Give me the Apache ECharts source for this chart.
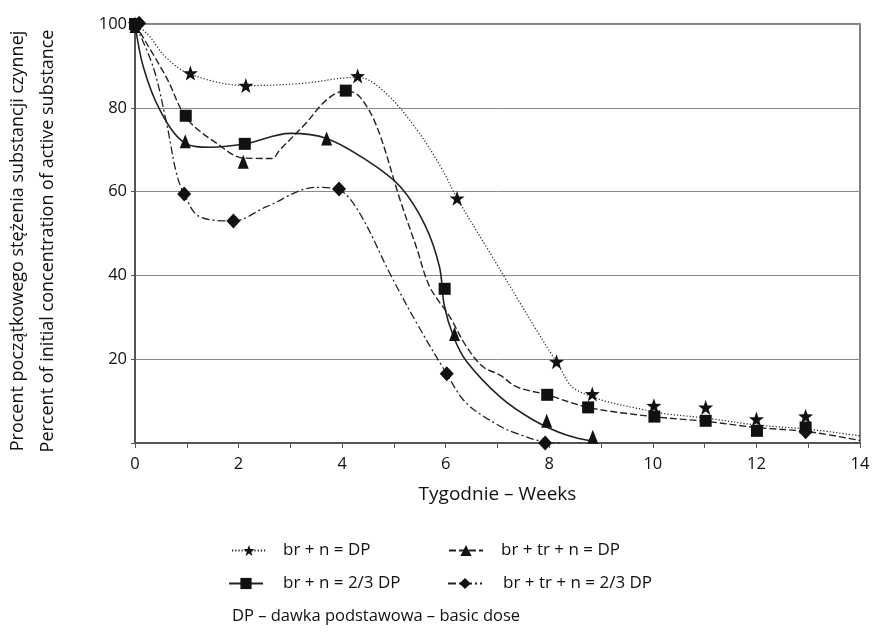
<!DOCTYPE html>
<html>
<head>
<meta charset="utf-8">
<script src="https://cdn.jsdelivr.net/npm/echarts@6/dist/echarts.min.js"></script>
<style>
html, body { margin: 0; padding: 0; background: #fff; }
#chart { width: 877px; height: 632px; }
</style>
</head>
<body>
<div id="chart"></div>
<script>
const names = ["br + n = DP", "br + tr + n = DP", "br + n = 2/3 DP", "br + tr + n = 2/3 DP"];
const yTicks = [0, 20, 40, 60, 80, 100];

// curves as drawn (smoothed by the chart)
const curveStarDotted = [[0,100],[0.25,97.5],[0.6,92],[1.07,88],[2.14,85.3],[3.2,85.8],[4.3,87.3],[4.8,84],[5.4,75.5],[5.9,66],[6.22,58.4],[6.8,46.5],[7.75,27],[8.14,19.4],[8.53,12.6],[10,7.5],[11,6],[12,4.3],[13,3.3],[14,1.7]];
const curveDashed = [[0,100],[0.6,87.4],[1.0,77.5],[1.58,71.5],[2.1,68],[2.64,67.9],[2.8,70],[3.3,76.3],[3.7,81.9],[4.07,84.1],[4.34,82.6],[4.67,75.5],[5.12,58],[5.44,46.5],[5.69,37.3],[6.08,30.1],[6.4,23],[6.72,18.2],[7.05,16.2],[7.37,13.4],[7.96,11.5],[8.75,8.5],[10,6.3],[11,5.2],[12,3.7],[13,2.7],[14,0.6]];
const curveSolid = [[0,100],[0.16,89.8],[0.48,79.5],[0.95,71.7],[1.45,70.6],[2.12,71.4],[3,73.9],[3.7,72.7],[4.47,67.5],[5.12,61.2],[5.6,52],[5.88,42],[5.97,33],[6.15,25.4],[6.4,19.5],[7.05,11],[7.69,5.5],[8.33,1.9],[8.85,0.4]];
const curveDashDot = [[0,100],[0.35,89.8],[0.61,76.3],[0.8,64.4],[0.95,59.4],[1.25,54],[1.9,53],[2.54,56.4],[3.5,61],[3.94,60.4],[4.34,54.8],[4.92,40.5],[5.44,28.6],[6.02,16.5],[6.4,9.5],[7.05,4],[7.37,2.3],[7.92,0.2],[8.2,0]];

// measured points (markers)
const stars = [[0,100],[1.07,88.3],[2.14,85.3],[4.3,87.6],[6.22,58.4],[8.14,19.4],[8.83,11.7],[10.02,8.9],[11.02,8.5],[12,5.7],[12.95,6.4]];
const squares = [[0,100],[0.98,78.1],[2.12,71.4],[4.07,84.1],[5.98,36.8],[7.96,11.5],[8.75,8.5],[10.03,6.3],[11.02,5.3],[12.01,2.9],[12.95,3.7]];
const triangles = [[0,99.5],[0.97,72],[2.09,67.1],[3.7,72.7],[6.17,26],[7.95,5.3],[8.84,1.5]];
const diamonds = [[0.08,100.2],[0.95,59.4],[1.9,53],[3.94,60.6],[6.02,16.5],[7.92,0],[12.95,2.7]];

const FONT = "'Open Sans', 'Noto Sans', sans-serif";
const INK = '#111';
const STAR = 'path://M50 0L61.8 33.8L97.6 34.5L69 56.2L79.4 90.5L50 70L20.6 90.5L31 56.2L2.4 34.5L38.2 33.8Z';

const chart = echarts.init(document.getElementById('chart'));

function curve(name, data, symbol, type, width) {
    return {
        name: name,
        type: 'line',
        data: data,
        smooth: 0.35,
        symbol: symbol,
        showSymbol: false,
        itemStyle: { color: INK },
        lineStyle: { color: '#222', width: width, type: type },
        emphasis: { disabled: true },
        z: 2
    };
}
function marks(data, symbol, size) {
    return {
        type: 'scatter',
        data: data,
        symbol: symbol,
        symbolSize: size,
        clip: false,
        itemStyle: { color: INK, opacity: 1 },
        emphasis: { disabled: true },
        z: 5
    };
}

// one legend per entry so each can sit where the reference has it
function legendItem(name, left, top, pad) {
    return {
        data: [name],
        left: left,
        top: top,
        selectedMode: false,
        itemWidth: 34,
        itemHeight: 14,
        textStyle: { fontFamily: FONT, fontSize: 17, color: INK, padding: [0, 0, 0, pad] }
    };
}

const option = {
    animation: false,
    backgroundColor: '#fff',
    grid: { left: 135, right: 17, top: 24, bottom: 189, show: true, borderColor: '#555', borderWidth: 1.5 },
    legend: [
        legendItem(names[0], 226, 537, 12),
        legendItem(names[1], 443, 537, 13),
        legendItem(names[2], 223, 570, 15),
        legendItem(names[3], 442, 570, 16)
    ],
    xAxis: {
        type: 'value',
        min: 0,
        max: 14,
        interval: 1,
        name: 'Tygodnie – Weeks',
        nameLocation: 'middle',
        nameGap: 42,
        nameTextStyle: { fontFamily: FONT, fontSize: 19, color: INK },
        axisLine: { lineStyle: { color: '#555', width: 2 } },
        axisTick: { show: true, length: 5, lineStyle: { color: '#555' } },
        axisLabel: {
            margin: 13,
            fontFamily: FONT, fontSize: 16.5, color: INK,
            formatter: function (v) { return v % 2 === 0 ? String(v) : ''; }
        },
        splitLine: { show: false }
    },
    yAxis: {
        type: 'value',
        min: yTicks[0],
        max: yTicks[yTicks.length - 1],
        interval: 20,
        axisLine: { show: true, lineStyle: { color: '#555', width: 2 } },
        axisTick: { show: true, length: 4, lineStyle: { color: '#555' } },
        axisLabel: {
            margin: 8,
            fontFamily: FONT, fontSize: 16.5, color: INK,
            formatter: function (v) { return v === 0 ? '' : String(v); }
        },
        splitLine: { show: true, lineStyle: { color: '#8a8a8a', width: 1 } }
    },
    graphic: [
        {
            type: 'text', x: 18, y: 241, rotation: Math.PI / 2,
            style: { text: 'Procent początkowego stężenia substancji czynnej', font: '18px ' + FONT, fill: INK, textAlign: 'center', textVerticalAlign: 'middle' }
        },
        {
            type: 'text', x: 48, y: 241, rotation: Math.PI / 2,
            style: { text: 'Percent of initial concentration of active substance', font: '18px ' + FONT, fill: INK, textAlign: 'center', textVerticalAlign: 'middle' }
        },
        {
            type: 'text', left: 232, top: 608,
            style: { text: 'DP – dawka podstawowa – basic dose', font: '16.5px ' + FONT, fill: INK }
        }
    ],
    series: [
        curve(names[0], curveStarDotted, STAR, [1.2, 2], 1.2),
        curve(names[1], curveDashed, 'triangle', [7, 3], 1.4),
        curve(names[2], curveSolid, 'rect', 'solid', 1.6),
        curve(names[3], curveDashDot, 'diamond', [8, 3, 2, 3], 1.3),
        marks(stars, STAR, 15),
        marks(squares, 'rect', 12),
        marks(triangles, 'triangle', [11, 14]),
        marks(diamonds, 'diamond', [14, 15])
    ]
};

chart.setOption(option);
</script>
</body>
</html>
